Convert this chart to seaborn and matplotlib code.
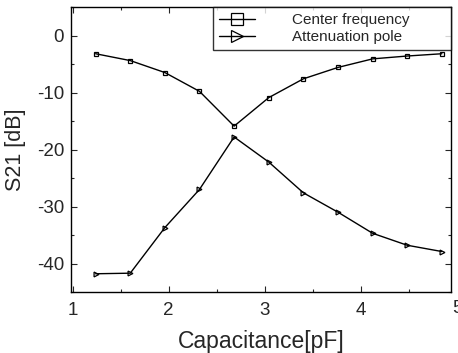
import matplotlib
matplotlib.use("Agg")
import matplotlib.pyplot as plt
import seaborn as sns
import pandas as pd
from matplotlib.ticker import MultipleLocator

capacitance = [1.24, 1.60, 1.96, 2.32, 2.68, 3.04, 3.40, 3.76, 4.12, 4.48, 4.84]
center_freq = [-3.2, -4.4, -6.5, -9.8, -15.9, -10.9, -7.6, -5.6, -4.1, -3.6, -3.2]
atten_pole = [-41.8, -41.7, -33.7, -27.0, -17.8, -22.2, -27.6, -31.0, -34.7, -36.8, -37.9]
series_names = ["Center frequency", "Attenuation pole"]
x_ticks = [1, 2, 3, 4, 5]
y_ticks = [0, -10, -20, -30, -40]

sns.set_style("ticks")
plt.rcParams["font.family"] = ["Liberation Sans", "DejaVu Sans"]
plt.rcParams["axes.unicode_minus"] = False

df = pd.DataFrame({
    "Capacitance": capacitance * 2,
    "S21": center_freq + atten_pole,
    "Series": [series_names[0]] * len(capacitance) + [series_names[1]] * len(capacitance),
})

fig = plt.figure(figsize=(4.58, 3.53), dpi=100)
ax = fig.add_axes([71 / 458, 61 / 353, 380 / 458, 285 / 353])

sns.lineplot(data=df, x="Capacitance", y="S21", hue="Series", style="Series",
             palette=["black", "black"], markers=["s", ">"], dashes=False,
             markersize=3.5, markerfacecolor="none", markeredgecolor="black",
             markeredgewidth=0.9, linewidth=1.0, ax=ax, legend=True)

ax.set_xlim(0.984, 4.935)
ax.set_ylim(-45, 5)
ax.set_xticks(x_ticks[:-1])
ax.set_yticks(y_ticks)
ax.xaxis.set_minor_locator(MultipleLocator(0.5))
ax.yaxis.set_minor_locator(MultipleLocator(5))
ax.tick_params(which="both", direction="in", top=True, right=True, labelsize=13.5)
ax.tick_params(axis="x", pad=7)
ax.tick_params(axis="y", pad=5)
ax.tick_params(which="major", length=4, width=0.8)
ax.tick_params(which="minor", length=2, width=0.8)
ax.text(x_ticks[-1], -0.0265, str(x_ticks[-1]), transform=ax.get_xaxis_transform(),
        ha="center", va="top", fontsize=13.5, clip_on=False)
for s in ax.spines.values():
    s.set_linewidth(1.0)
    s.set_color("black")

ax.set_xlabel("Capacitance[pF]", fontsize=16.5, labelpad=8)
ax.set_ylabel("S21 [dB]", fontsize=15.5, labelpad=7.5)

handles, labels = ax.get_legend_handles_labels()
for h in handles:
    h.set_markersize(9)
    h.set_markerfacecolor("none")
    h.set_markeredgecolor("black")
leg = ax.legend(handles, labels, loc="upper left",
                bbox_to_anchor=(0.3737, 0.0, 0.6263, 1.0), mode="expand",
                borderaxespad=0, fontsize=11, handlelength=2.35, handletextpad=2.4,
                frameon=True, fancybox=False, edgecolor="black", borderpad=0.4,
                labelspacing=0.2)
leg.get_frame().set_linewidth(1.0)
leg.set_title(None)

fig.savefig("out.png", dpi=100)
